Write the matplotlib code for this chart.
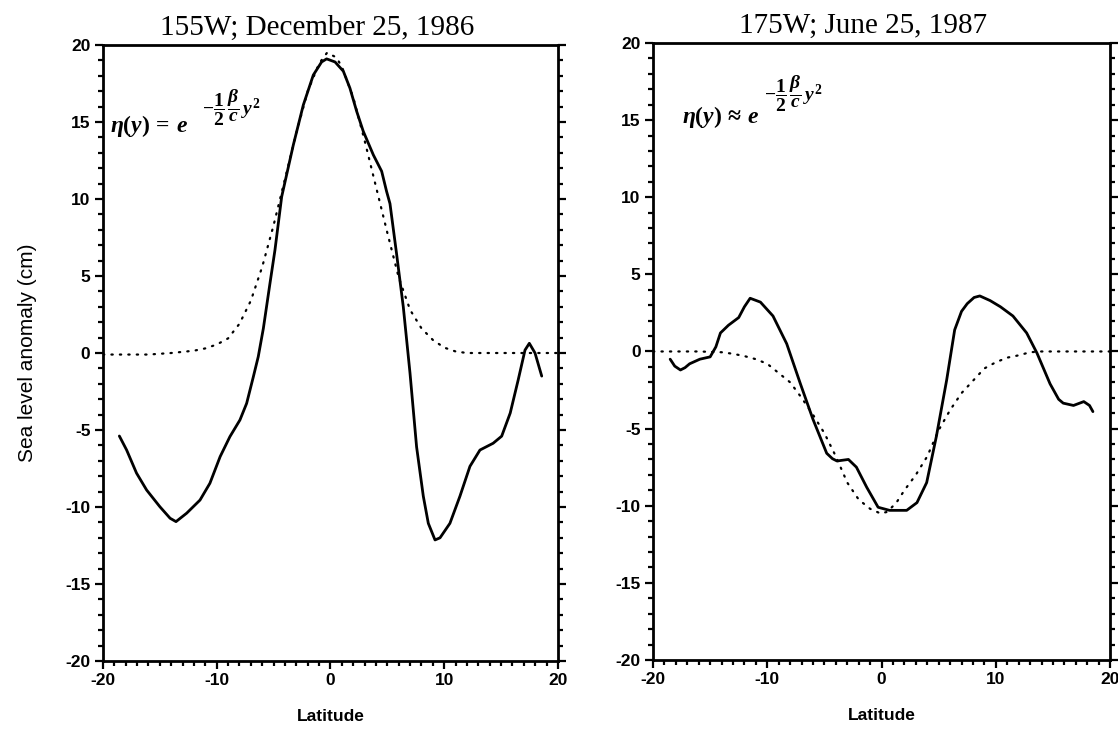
import matplotlib
matplotlib.use("Agg")
import matplotlib.pyplot as plt
from matplotlib.ticker import MultipleLocator

# ---- data ----
lat_obs_a = [-18.56, -17.92, -17.05, -16.16, -15.0, -14.1, -13.58, -12.64, -11.47, -10.6, -9.7,
             -8.84, -7.96, -7.37, -6.78, -6.35, -5.9, -5.32, -4.88, -4.29, -3.27, -2.39, -1.51,
             -0.78, -0.34, 0.4, 1.13, 1.71, 2.3, 2.88, 3.77, 4.5, 4.93, 5.23, 5.8, 6.4, 6.99,
             7.57, 8.16, 8.6, 9.19, 9.63, 10.5, 11.38, 12.26, 13.14, 14.3, 15.05, 15.8, 16.5,
             17.1, 17.48, 17.98, 18.57]
sla_obs_a = [-5.39, -6.3, -7.8, -8.9, -9.98, -10.73, -10.95, -10.4, -9.55, -8.46, -6.73,
             -5.43, -4.35, -3.27, -1.54, -0.24, 1.6, 4.52, 6.69, 10.15, 13.5, 16.1, 18.05,
             18.9, 19.1, 18.9, 18.3, 17.2, 15.7, 14.4, 12.86, 11.8, 10.5, 9.7, 6.5, 3.0, -1.3,
             -6.1, -9.3, -11.06, -12.14, -12.0, -11.06, -9.3, -7.36, -6.3, -5.86, -5.4, -3.9, -1.75,
             0.19, 0.63, 0.0, -1.5]
lat_fit_a = [-20, -18, -16, -14, -12, -11, -10, -9, -8, -7, -6, -5, -4, -3, -2, -1, -0.3,
             0.5, 1, 2, 3, 4, 5, 6, 7, 8, 9, 10, 11, 12, 14, 16, 18, 20]
sla_fit_a = [-0.1, -0.1, -0.1, 0.0, 0.15, 0.3, 0.55, 0.95, 1.9, 3.4, 5.6, 8.3, 11.3, 14.3,
             17.0, 18.8, 19.5, 19.2, 18.6, 16.6, 13.8, 10.8, 7.8, 4.9, 2.8, 1.6, 0.85, 0.35,
             0.1, 0.0, 0.0, 0.0, 0.0, 0.0]

lat_obs_b = [-18.5, -18.1, -17.6, -17.2, -16.8, -15.9, -15.0, -14.5, -14.1, -13.4, -12.5, -12.0,
             -11.5, -10.6, -9.5, -8.3, -7.1, -6.0, -4.8, -4.3, -3.9, -2.9, -2.2, -1.3, -0.3, 0.7,
             2.2, 3.1, 3.95, 4.8, 5.7, 6.4, 7.0, 7.5, 8.1, 8.6, 9.5, 10.4, 11.5, 12.7, 13.6,
             14.75, 15.5, 15.9, 16.8, 17.7, 18.2, 18.5]
sla_obs_b = [-0.5, -0.95, -1.2, -1.05, -0.8, -0.5, -0.35, 0.3, 1.2, 1.7, 2.2, 2.9,
             3.45, 3.2, 2.3, 0.5, -2.1, -4.4, -6.6, -6.95, -7.1, -7.0, -7.5, -8.8, -10.1, -10.3,
             -10.3, -9.8, -8.5, -5.5, -1.85, 1.4, 2.6, 3.1, 3.5, 3.6, 3.3, 2.9, 2.3, 1.2, -0.1,
             -2.1, -3.1, -3.35, -3.5, -3.25, -3.5, -3.9]
lat_fit_b = [-20, -16, -14, -13, -12, -11, -10, -9, -8, -7, -6, -5, -4, -3, -2, -1, -0.1,
             0.5, 1.3, 2, 3, 4, 5, 6, 7, 8, 9, 10, 11, 12, 13, 14, 16, 18, 20]
sla_fit_b = [0.0, 0.0, -0.05, -0.15, -0.3, -0.5, -0.8, -1.4, -2.0, -3.0, -4.1, -5.3, -6.8,
             -8.5, -9.6, -10.2, -10.5, -10.4, -9.8, -9.0, -8.0, -6.8, -5.1, -3.8, -2.7, -1.9,
             -1.1, -0.7, -0.4, -0.25, -0.05, 0.0, 0.0, 0.0, 0.0]

titles = ["155W; December 25, 1986", "175W; June 25, 1987"]
xticks = [-20, -10, 0, 10, 20]
yticks = [-20, -15, -10, -5, 0, 5, 10, 15, 20]
formula_base = [r"$\eta(y)\,=\,e$", r"$\eta(y)\,\approx\,e$"]
formula_exp = r"$-\dfrac{1}{2}\,\dfrac{\beta}{c}\,y^{2}$"

plt.rcParams['axes.unicode_minus'] = False
plt.rcParams['mathtext.fontset'] = 'custom'
plt.rcParams['mathtext.rm'] = 'Liberation Serif:bold'
plt.rcParams['mathtext.it'] = 'Liberation Serif:italic:bold'
plt.rcParams['mathtext.bf'] = 'Liberation Serif:bold'

fig = plt.figure(figsize=(11.18, 7.32), dpi=100)
ax1 = fig.add_axes([0.0921, 0.0970, 0.4070, 0.8415])
ax2 = fig.add_axes([0.5841, 0.0984, 0.4088, 0.8429])

panels = [
    (ax1, lat_obs_a, sla_obs_a, lat_fit_a, sla_fit_a, (-19.4, 14.35), (-11.3, 15.9)),
    (ax2, lat_obs_b, sla_obs_b, lat_fit_b, sla_fit_b, (-17.45, 14.8), (-10.3, 16.7)),
]
for i, (ax, lo, so, lf, sf, fpos, epos) in enumerate(panels):
    ax.plot(lf, sf, color='black', linestyle=(0, (0.6, 3.2)), linewidth=1.6,
            dash_capstyle='round')
    ax.plot(lo, so, color='black', linewidth=2.0, solid_capstyle='round',
            solid_joinstyle='round')
    ax.set_xlim(-20, 20)
    ax.set_ylim(-20, 20)
    ax.set_xticks(xticks)
    ax.set_yticks(yticks)
    ax.xaxis.set_minor_locator(MultipleLocator(1))
    ax.yaxis.set_minor_locator(MultipleLocator(1))
    ax.tick_params(which='both', direction='out', top=False, right=True,
                   width=1.6, labelsize=12.5, pad=3)
    ax.tick_params(which='major', length=6)
    ax.tick_params(which='minor', length=3.5)
    for lab in ax.get_xticklabels() + ax.get_yticklabels():
        lab.set_fontweight('bold')
        lab.set_family('Liberation Sans')
    for sp in ax.spines.values():
        sp.set_linewidth(2.0)
    ax.set_xlabel("Latitude", fontsize=12.5, fontweight='bold',
                  family='Liberation Sans', labelpad=15)
    ax.set_title(titles[i], fontsize=21, family='Liberation Serif', pad=7,
                 x=0.47 if i == 0 else 0.46)
    ax.text(fpos[0], fpos[1], formula_base[i], fontsize=17, ha='left', va='baseline')
    ax.text(epos[0], epos[1], formula_exp, fontsize=14, ha='left', va='center')

ax1.set_ylabel("Sea level anomaly (cm)", fontsize=15, family='Liberation Sans',
               labelpad=20)

fig.savefig("out.png", dpi=100)
